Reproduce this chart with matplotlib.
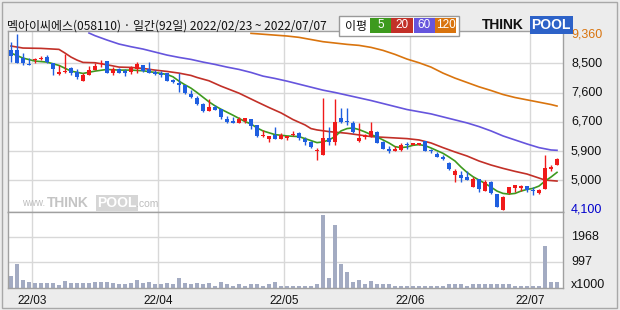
import matplotlib
matplotlib.use("Agg")
import matplotlib.pyplot as plt
from matplotlib.patches import Rectangle
from matplotlib import transforms
import numpy as np

# ---------------- data ----------------
title = "멕아이씨에스(058110) · 일간(92일) 2022/02/23 ~ 2022/07/07"
month_labels = ["22/03", "22/04", "22/05", "22/06", "22/07"]
month_start_idx = [4, 25, 46, 67, 87]

opens = [8880, 8880, 8640, 8450, 8570, 8620, 8680, 8480, 8160, 8220,
         8340, 8220, 7960, 8140, 8280, 8460, 8540, 8180, 8320, 8240,
         8220, 8320, 8440, 8300, 8230, 8190, 8180, 7980, 7900, 7840,
         7560, 7450, 7270, 7060, 7180, 7130, 6830, 6770, 6710, 6770,
         6810, 6630, 6310, 6230, 6350, 6230, 6250, 6350, 6410, 6230,
         6130, 5850, 5750, 6250, 6130, 6850, 6740, 6690, 6170, 6270,
         6310, 6430, 6130, 5930, 5870, 5890, 6080, 6030, 6030, 6170,
         5860, 5770, 5690, 5510, 5130, 5150, 5070, 4790, 5010, 4670,
         4930, 4570, 4100, 4590, 4750, 4750, 4810, 4690, 4610, 4730,
         5310, 5450]
highs = [9110, 9360, 8800, 8640, 8640, 8700, 8720, 8480, 8440, 8760,
         8380, 8300, 8200, 8400, 8480, 8580, 8560, 8360, 8340, 8320,
         8400, 8520, 8440, 8520, 8280, 8240, 8200, 8020, 8200, 7840,
         7680, 7500, 7290, 7410, 7240, 7130, 6910, 6870, 6890, 6850,
         6810, 6650, 6490, 6310, 6570, 6390, 6310, 6470, 6430, 6270,
         6170, 5950, 7450, 6590, 7410, 7160, 7160, 6750, 6690, 6370,
         6730, 6450, 6160, 6010, 6010, 6090, 6130, 6100, 6090, 6170,
         5910, 5830, 5730, 5530, 5330, 5270, 5250, 5070, 5030, 4990,
         4950, 4570, 4510, 4770, 4830, 4830, 4810, 4790, 4710, 5750,
         5430, 5650]
lows = [8530, 8500, 8440, 8420, 8480, 8580, 8500, 8140, 8130, 8180,
        8140, 8020, 7960, 8140, 8280, 8360, 8180, 8120, 8180, 8100,
        8160, 8180, 8220, 8180, 8120, 8080, 7940, 7880, 7620, 7560,
        7460, 7240, 7030, 7060, 7090, 6830, 6710, 6690, 6690, 6710,
        6530, 6290, 6290, 6130, 6210, 6230, 6190, 6310, 6190, 6030,
        5950, 5590, 5750, 6030, 6030, 6710, 6650, 6410, 6130, 6230,
        6290, 6110, 5920, 5810, 5850, 5870, 5930, 6030, 6030, 5850,
        5790, 5670, 5590, 5290, 4930, 4930, 4990, 4770, 4630, 4650,
        4570, 4190, 4100, 4570, 4630, 4670, 4630, 4530, 4570, 4730,
        5250, 5450]
closes = [8700, 8500, 8500, 8440, 8580, 8630, 8520, 8320, 8220, 8260,
          8200, 8080, 8140, 8280, 8400, 8500, 8200, 8320, 8200, 8180,
          8340, 8460, 8240, 8200, 8160, 8130, 7960, 7920, 7820, 7590,
          7480, 7270, 7060, 7170, 7090, 6870, 6730, 6710, 6810, 6850,
          6610, 6310, 6340, 6310, 6230, 6350, 6310, 6370, 6250, 6130,
          5990, 5870, 6250, 6130, 6730, 6730, 6720, 6430, 6250, 6350,
          6450, 6110, 5930, 5850, 5930, 6030, 6030, 6090, 6090, 5850,
          5850, 5690, 5610, 5330, 5250, 5050, 4990, 5030, 4730, 4930,
          4610, 4190, 4490, 4770, 4830, 4810, 4690, 4670, 4690, 5350,
          5370, 5610]
volumes = [477, 936, 325, 248, 199, 199, 183, 199, 122, 275,
           183, 183, 183, 183, 222, 248, 248, 199, 145, 145,
           199, 325, 183, 248, 145, 145, 199, 145, 401, 183,
           145, 183, 172, 183, 95, 222, 145, 95, 145, 95,
           145, 172, 95, 145, 222, 95, 95, 95, 95, 95,
           95, 145, 2820, 401, 2437, 909, 604, 222, 325, 145,
           275, 172, 172, 145, 95, 95, 95, 95, 95, 95,
           95, 95, 95, 145, 172, 145, 95, 145, 145, 145,
           172, 145, 172, 145, 60, 60, 95, 95, 60, 1597,
           248, 222]

ma5_idx = [0, 2, 4, 6, 8, 10, 12, 14, 16, 18, 20, 22, 24, 26, 27, 28, 29, 30, 31, 32,
           33, 34, 35, 37, 39, 40, 41, 42, 44, 46, 48, 50, 51, 52, 53, 54, 55, 56, 57, 58,
           59, 60, 61, 62, 63, 64, 65, 66, 67, 68, 69, 70, 71, 72, 73, 74, 75, 76, 77, 78,
           79, 80, 81, 82, 83, 84, 85, 86, 87, 88, 89, 90, 91]
ma5_val = [8790, 8640, 8550, 8520, 8420, 8250, 8180, 8250, 8300, 8280, 8280, 8260, 8210, 8150,
           8080, 7950, 7840, 7740, 7610, 7470, 7330, 7210, 7110, 6930, 6740, 6670, 6550, 6460,
           6350, 6310, 6290, 6170, 6110, 6130, 6190, 6290, 6460, 6530, 6550, 6500, 6430, 6350,
           6280, 6190, 6100, 5990, 5960, 5980, 6030, 6050, 6020, 5950, 5870, 5790, 5680, 5560,
           5380, 5220, 5090, 4990, 4890, 4780, 4660, 4590, 4570, 4590, 4660, 4710, 4740, 4810,
           4960, 5080, 5220]
ma20_idx = [0, 2, 5, 8, 9, 10, 11, 12, 14, 16, 18, 20, 22, 24, 26, 28, 30, 31, 33, 35,
            38, 41, 43, 45, 47, 49, 50, 51, 53, 56, 58, 60, 63, 66, 68, 70, 72, 74, 76, 78,
            80, 82, 84, 86, 88, 89, 91]
ma20_val = [9000, 8940, 8930, 8900, 8790, 8670, 8580, 8510, 8500, 8440, 8370, 8360, 8330,
            8280, 8240, 8190, 8120, 8060, 7960, 7800, 7590, 7330, 7160, 7000, 6800, 6640,
            6530, 6490, 6440, 6390, 6340, 6290, 6260, 6230, 6190, 6100, 5960, 5830, 5710,
            5560, 5440, 5340, 5250, 5170, 5050, 4990, 4960]
ma60_idx = [13, 14, 16, 18, 20, 22, 24, 26, 28, 30, 32, 34, 36, 38, 40, 42, 44, 46, 48, 50,
            52, 54, 56, 58, 60, 62, 64, 66, 68, 70, 72, 74, 76, 78, 80, 82, 84, 86, 88, 90, 91]
ma60_val = [9390, 9310, 9180, 9060, 8980, 8910, 8820, 8730, 8660, 8600, 8520, 8450, 8370,
            8300, 8210, 8100, 8030, 7950, 7860, 7770, 7680, 7610, 7530, 7450, 7370, 7280,
            7190, 7100, 7035, 6970, 6880, 6790, 6700, 6590, 6460, 6310, 6190, 6070, 5960,
            5890, 5880]
ma120_idx = [40, 43, 46, 48, 50, 52, 54, 56, 58, 60, 62, 64, 66, 68, 70, 72, 74, 76, 78, 80,
             82, 84, 86, 88, 90, 91]
ma120_val = [9380, 9340, 9300, 9260, 9195, 9130, 9090, 9050, 9020, 8960, 8870, 8750, 8610,
             8500, 8370, 8190, 8040, 7910, 7780, 7670, 7550, 7460, 7390, 7320, 7250, 7205]

price_ticks = [9360, 8483, 7607, 6730, 5853, 4977, 4100]
price_tick_labels = ["9,360", "8,500", "7,600", "6,700", "5,900", "5,000", "4,100"]
vol_ticks = [0, 997, 1968]
vol_tick_labels = ["x1000", "997", "1968"]
ma_labels = ["5", "20", "60", "120"]

# ---------------- style ----------------
RED = '#f01a1a'
BLUE = '#1f5fe0'
C5, C20, C60, C120 = '#3d9a1e', '#c23028', '#6655dd', '#d9740e'
GRID = '#d8d8d8'
FRAME = '#a0a0a0'
W, H = 620, 310

plt.rcParams['font.family'] = ['Liberation Sans', 'Noto Sans CJK KR', 'DejaVu Sans']

fig = plt.figure(figsize=(6.2, 3.1), dpi=100)
fig.patch.set_facecolor('#ececec')


def fx(x):
    return x / W


def fy(y):
    return 1 - y / H


L, R = 7.5, 563
ax = fig.add_axes([fx(L), fy(211.7), fx(R) - fx(L), fy(31) - fy(211.7)])
axv = fig.add_axes([fx(L), fy(288), fx(R) - fx(L), fy(211.7) - fy(288)], sharex=ax)

idx = np.arange(len(closes))
o = np.array(opens, float)
c = np.array(closes, float)
h = np.array(highs, float)
lo = np.array(lows, float)
cols = np.where(c >= o, RED, BLUE)

for a in (ax, axv):
    a.set_facecolor('white')
    for s in a.spines.values():
        s.set_color(FRAME)
        s.set_linewidth(1.0)
    a.tick_params(left=False, right=False, bottom=False, top=False,
                  labelleft=False, labelbottom=False)
    for m in month_start_idx:
        a.axvline(m - 0.5, color=GRID, lw=1.0, zorder=0)

ax.set_xlim(-0.58, 92.0)
ax.set_ylim(4043, 9450)
for v in price_ticks[1:-1]:
    ax.axhline(v, color=GRID, lw=1.0, zorder=0)

# moving averages
ax.plot(ma120_idx, ma120_val, color=C120, lw=1.2, zorder=1)
ax.plot(ma60_idx, ma60_val, color=C60, lw=1.2, zorder=1)
ax.plot(ma20_idx, ma20_val, color=C20, lw=1.2, zorder=1)
ax.plot(ma5_idx, ma5_val, color=C5, lw=1.2, zorder=1)

# candles
ax.vlines(idx, lo, h, colors=cols, lw=1.0, zorder=3)
body_bot = np.minimum(o, c)
body_h = np.maximum(np.abs(c - o), 30)
ax.bar(idx, body_h, bottom=body_bot, width=0.8, color=cols, linewidth=0, zorder=4)

# price labels
off = transforms.ScaledTranslation(8 / 100, 0, fig.dpi_scale_trans)
btr = transforms.blended_transform_factory(ax.transAxes, ax.transData) + off
lab_cols = ['#d9740e'] + ['#111111'] * 5 + ['#0000cc']
for v, t, cc in zip(price_ticks, price_tick_labels, lab_cols):
    ax.text(1.0, v, t, transform=btr, ha='left', va='center', fontsize=9, color=cc,
            clip_on=False)

# volume
axv.set_ylim(0, 2930)
for v in vol_ticks[1:]:
    axv.axhline(v, color=GRID, lw=1.0, zorder=0)
axv.bar(idx, volumes, width=0.8, color='#a3abc2', linewidth=0, zorder=2)
btv = transforms.blended_transform_factory(axv.transAxes, axv.transData) + off
for v, t in zip(vol_ticks, vol_tick_labels):
    dy = transforms.ScaledTranslation(0, 3 / 100, fig.dpi_scale_trans) if v == 0 else transforms.Affine2D()
    axv.text(1.0, v, t, transform=btv + dy, ha='left', va='center', fontsize=9,
             color='#111111', clip_on=False)

# x labels
axv.set_xticks([m - 0.5 for m in month_start_idx])
axv.set_xticklabels(month_labels)
axv.tick_params(labelbottom=True, pad=1.5, labelsize=8.5, colors='#111111')
axv.set_xlim(-0.58, 92.0)

# title
fig.text(fx(7), fy(26.5), title, fontsize=8.6, va='center', ha='left',
         family=['Noto Sans CJK KR', 'DejaVu Sans'], color='#111111')

# MA legend box
fig.patches.append(Rectangle((fx(339), fy(35.5)), fx(459) - fx(339), fy(16) - fy(35.5),
                             transform=fig.transFigure, facecolor='white',
                             edgecolor='#999999', lw=1.0))
fig.text(fx(345), fy(26.5), "이평", fontsize=8.6, va='center', ha='left',
         family=['Noto Sans CJK KR', 'DejaVu Sans'], color='#111111')
boxes = [(370, 391, C5), (391, 413, C20), (414, 435, C60), (435, 456, C120)]
for (x0, x1, cc), t in zip(boxes, ma_labels):
    fig.patches.append(Rectangle((fx(x0), fy(32.5)), fx(x1) - fx(x0), fy(18) - fy(32.5),
                                 transform=fig.transFigure, facecolor=cc, lw=0))
    fig.text(fx((x0 + x1) / 2), fy(25.5), t, fontsize=8.5, va='center', ha='center',
             color='white')

# ThinkPool logo
fig.text(fx(482), fy(25), "THINK", fontsize=10, fontweight='bold', va='center',
         ha='left', color='#111111')
fig.text(fx(531.5), fy(25), "POOL", fontsize=10, fontweight='bold', va='center',
         ha='left', color='white',
         bbox=dict(boxstyle='square,pad=0.12', facecolor='#2d62c8', edgecolor='none'))

# watermark
fig.text(fx(22), fy(203), "www.", fontsize=7, va='center', ha='left', color='#bdbdbd')
fig.text(fx(47), fy(203), "THINK", fontsize=10, fontweight='bold', va='center',
         ha='left', color='#c4c4c4')
fig.text(fx(97), fy(203), "POOL", fontsize=10, fontweight='bold', va='center',
         ha='left', color='white',
         bbox=dict(boxstyle='square,pad=0.1', facecolor='#d6d6d6', edgecolor='none'))
fig.text(fx(136), fy(204), ".com", fontsize=7.5, va='center', ha='left', color='#bdbdbd')

# outer frame
fig.patches.append(Rectangle((fx(2), fy(308)), fx(617) - fx(2), fy(2) - fy(308),
                             transform=fig.transFigure, facecolor='none',
                             edgecolor='#a8a8a8', lw=1.0))

fig.savefig('out.png', dpi=100, facecolor=fig.get_facecolor())
